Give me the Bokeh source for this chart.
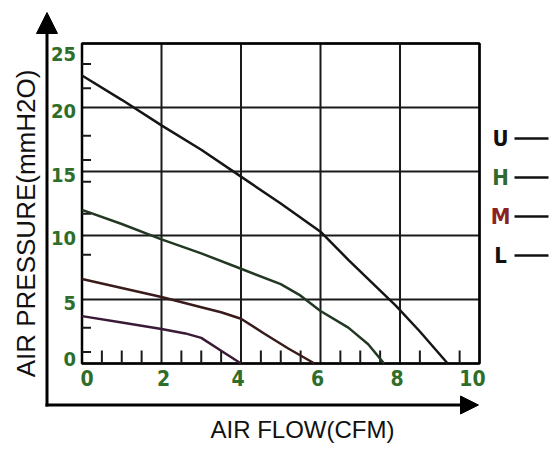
import math
from bokeh.plotting import figure
from bokeh.models import Range1d, Label, Arrow, NormalHead
from bokeh.core.properties import value
from bokeh.embed import file_html
from bokeh.resources import INLINE

# ---------------- data ----------------
series_names = ["U", "H", "M", "L"]
u_flow = [0, 1, 2, 3, 4, 5, 6, 6.7, 7.3, 7.9, 8.5, 9.2]
u_pressure = [22.5, 20.6, 18.6, 16.7, 14.6, 12.5, 10.3, 8.1, 6.3, 4.5, 2.5, 0]
h_flow = [0, 1, 2, 3, 4, 5, 5.5, 6, 6.7, 7.2, 7.6]
h_pressure = [12.0, 10.9, 9.7, 8.6, 7.4, 6.2, 5.3, 4.1, 2.8, 1.5, 0]
m_flow = [0, 1, 2, 3, 3.5, 4, 4.6, 5.2, 5.85]
m_pressure = [6.6, 5.9, 5.2, 4.4, 4.0, 3.5, 2.3, 1.15, 0]
l_flow = [0, 1, 2, 2.6, 3.0, 3.5, 4.0]
l_pressure = [3.7, 3.2, 2.7, 2.35, 2.0, 1.0, 0]

x_ticks = [0, 2, 4, 6, 8, 10]
x_tick_labels = ["0", "2", "4", "6", "8", "10"]
y_ticks = [0, 5, 10, 15, 20, 25]
y_tick_labels = ["0", "5", "10", "15", "20", "25"]
x_minor_ticks = [0.5, 1, 1.5, 2.5, 3, 3.5, 4.5, 5, 5.5, 6.5, 7, 7.5, 8.5, 9.5]
y_minor_ticks = [0.9, 2.8, 8.5, 11.7, 14.2, 15.9, 17.8, 21.5, 23.4]

x_title = "AIR FLOW(CFM)"
y_title = "AIR PRESSURE(mmH2O)"

flows = [u_flow, h_flow, m_flow, l_flow]
pressures = [u_pressure, h_pressure, m_pressure, l_pressure]

# ---------------- styles ----------------
curve_colors = ["#151515", "#233823", "#3a1b1b", "#3a1a36"]
legend_text_colors = ["#111111", "#2f6b30", "#8b2222", "#111111"]
TICK_GREEN = "#2f6e2a"
NARROW = "DejaVu Sans Condensed"
SANS = "Liberation Sans"

# ---------------- layout (canvas pixels) ----------------
W, H = 552, 450
BOX_L, BOX_R, BOX_T, BOX_B = 81.5, 479, 43, 363
XMIN, XMAX = x_ticks[0], x_ticks[-1]
YMIN, YMAX = y_ticks[0], y_ticks[-1]
SX = (BOX_R - BOX_L) / (XMAX - XMIN)
SY = (BOX_B - BOX_T) / (YMAX - YMIN)
# small pixel nudges of tick labels, as in the drawing
x_label_dx = [5, 2, -3, -3, -3, -7]
y_label_dy = [-5, 3, 2, 3, 3, 10]


def dx(px):
    return XMIN + (px - BOX_L) / SX


def dy(py):
    return YMIN + (BOX_B - py) / SY


p = figure(width=W, height=H,
           x_range=Range1d(dx(0), dx(W)), y_range=Range1d(dy(H), dy(0)),
           output_backend="svg", toolbar_location=None, min_border=0,
           x_axis_location=None, y_axis_location=None)
for g in p.grid:
    g.visible = False
p.outline_line_color = None
p.background_fill_color = "white"
p.border_fill_color = "white"

# grid lines at the major ticks
p.segment(x0=x_ticks, y0=[YMIN] * len(x_ticks), x1=x_ticks, y1=[YMAX] * len(x_ticks),
          line_color="#1a1a1a", line_width=2)
p.segment(x0=[XMIN] * len(y_ticks), y0=y_ticks, x1=[XMAX] * len(y_ticks), y1=y_ticks,
          line_color="#1a1a1a", line_width=2)
# plot box
p.quad(left=[XMIN], right=[XMAX], bottom=[YMIN], top=[YMAX], fill_color=None,
       line_color="black", line_width=2.5)

# minor ticks, pointing inwards
p.ray(x=x_minor_ticks, y=[YMIN] * len(x_minor_ticks), length=13, angle=math.pi / 2,
      length_units="screen", line_color="#1a1a1a", line_width=2)
p.ray(x=[XMIN] * len(y_minor_ticks), y=y_minor_ticks, length=9, angle=0,
      length_units="screen", line_color="#1a1a1a", line_width=2)

# tick labels
p.text(x=x_ticks, y=[YMIN] * len(x_ticks), text=x_tick_labels,
       x_offset=x_label_dx, y_offset=6,
       text_align="center", text_baseline="top", text_font=value(NARROW),
       text_font_style="bold", text_font_size="21px", text_color=TICK_GREEN)
p.text(x=[XMIN] * len(y_ticks), y=y_ticks, text=y_tick_labels,
       x_offset=-6, y_offset=y_label_dy,
       text_align="right", text_baseline="middle", text_font=value(NARROW),
       text_font_style="bold", text_font_size="20px", text_color=TICK_GREEN)

# curves
for fl, pr, c in zip(flows, pressures, curve_colors):
    p.line(fl, pr, line_color=c, line_width=2.5)

# outer axis arrows
AX_X, AX_Y = 46.5, 404.5
p.add_layout(Arrow(x_start=dx(AX_X), y_start=dy(AX_Y + 1.5), x_end=dx(AX_X), y_end=dy(12),
                   line_width=3, line_color="black",
                   end=NormalHead(size=21, fill_color="black", line_color="black",
                                  line_width=1)))
p.add_layout(Arrow(x_start=dx(AX_X - 1.5), y_start=dy(AX_Y), x_end=dx(478), y_end=dy(AX_Y),
                   line_width=3, line_color="black",
                   end=NormalHead(size=18, fill_color="black", line_color="black",
                                  line_width=1)))

# axis titles
p.add_layout(Label(x=dx(302), y=dy(429), text=x_title, text_align="center",
                   text_baseline="middle", text_font=SANS,
                   text_font_size="24px", text_color="#111111"))
p.add_layout(Label(x=dx(25), y=dy(223), text=y_title, angle=math.pi / 2,
                   text_align="center", text_baseline="middle", text_font=SANS,
                   text_font_size="26px", text_color="#111111"))

# legend: letter followed by a short line
LEG_X, LEG_Y0, LEG_DY = 500, 138, 39
leg_y = [dy(LEG_Y0 + i * LEG_DY) for i in range(len(series_names))]
p.text(x=[dx(LEG_X)] * len(series_names), y=leg_y, text=series_names,
       text_align="center", text_baseline="middle", text_font=value(NARROW),
       text_font_style="bold", text_font_size="22px", text_color=legend_text_colors)
p.segment(x0=[dx(LEG_X + 14)] * len(series_names), y0=leg_y,
          x1=[dx(548)] * len(series_names), y1=leg_y,
          line_color="#111111", line_width=2.5)

open("out.html", "w").write(file_html(p, INLINE))
